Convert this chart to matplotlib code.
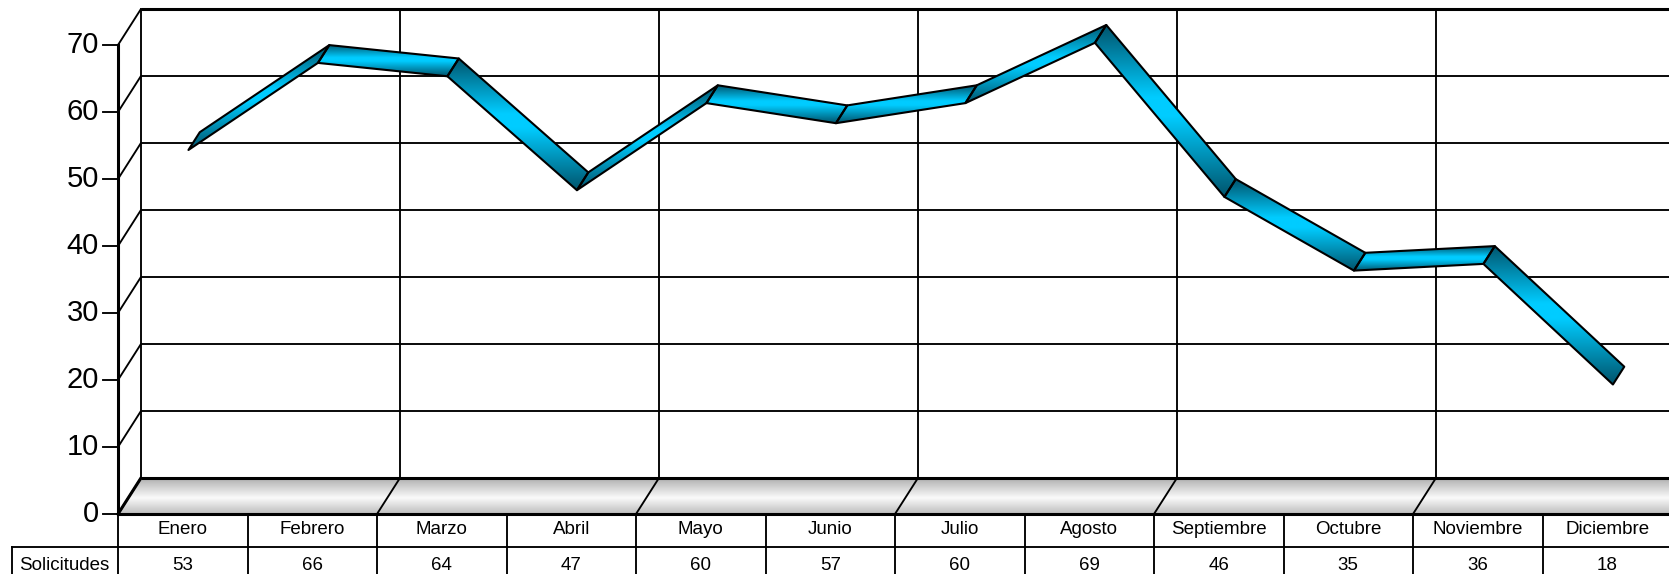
import numpy as np
import matplotlib
matplotlib.use("Agg")
import matplotlib.pyplot as plt
from matplotlib.patches import Polygon
from matplotlib.colors import LinearSegmentedColormap

plt.rcParams['font.family'] = ['Liberation Sans', 'DejaVu Sans']

# ---- data ----
months = ["Enero", "Febrero", "Marzo", "Abril", "Mayo", "Junio", "Julio",
          "Agosto", "Septiembre", "Octubre", "Noviembre", "Diciembre"]
solicitudes = [53, 66, 64, 47, 60, 57, 60, 69, 46, 35, 36, 18]
series_name = "Solicitudes"
y_ticks = [0, 10, 20, 30, 40, 50, 60, 70]

# ---- layout (pixel geometry of the 3D frame) ----
W, H = 1669, 574
X0, SX = 118.0, 129.5      # px of front-left corner, px per category
Y0, SY = 514.0, 6.70       # px (from top) of value 0, px per unit
DX = 22.7 / SX             # depth offset in category units
DY = 35.6 / SY             # depth offset in value units
YMAX = 70
NC = len(months)

fig = plt.figure(figsize=(W / 100, H / 100), dpi=100)
ax = fig.add_axes([0, 0, 1, 1])
ax.set_axis_off()
xlim = (-X0 / SX, (W - X0) / SX)
ylim = (-(H - Y0) / SY, Y0 / SY)


def P(c, v, t):
    return (c + t * DX, v + t * DY)


def px_x(p):
    return (p - X0) / SX


def px_y(p):
    return (Y0 - p) / SY


K = 'black'
lw_thin = 1.35
lw_thick = 2.2

# ---- floor with gradient ----
floor_pts = [P(0, 0, 0), P(NC + 1, 0, 0), P(NC + 1, 0, 1), P(0, 0, 1)]
floor_cmap = LinearSegmentedColormap.from_list(
    "floor", [(0, '#BCBCBC'), (0.45, '#FAFAFA'), (1, '#B0B0B0')])
fpoly = Polygon(floor_pts, closed=True, facecolor='none', edgecolor='none',
                transform=ax.transData)
ax.add_patch(fpoly)
xs = [p[0] for p in floor_pts]
ys = [p[1] for p in floor_pts]
im = ax.imshow(np.linspace(0, 1, 256).reshape(-1, 1), cmap=floor_cmap,
               extent=[min(xs), max(xs), min(ys), max(ys)], origin='lower',
               aspect='auto', interpolation='bilinear', zorder=1)
im.set_clip_path(fpoly)

# ---- back wall gridlines ----
for v in y_ticks:
    a, b = P(0, v, 1), P(NC + 1, v, 1)
    ax.plot([a[0], b[0]], [a[1], b[1]], color=K,
            lw=lw_thick if v in (0, YMAX) else lw_thin, zorder=2,
            solid_capstyle='butt')
for c in range(0, NC + 1, 2):
    a, b = P(c, 0, 1), P(c, YMAX, 1)
    ax.plot([a[0], b[0]], [a[1], b[1]], color=K, lw=lw_thin, zorder=2)

# ---- left side wall ----
for v in y_ticks:
    a, b = P(0, v, 0), P(0, v, 1)
    ax.plot([a[0], b[0]], [a[1], b[1]], color=K, lw=lw_thin, zorder=2)
a, b = P(0, 0, 0), P(0, YMAX, 0)
ax.plot([a[0], b[0]], [a[1], b[1]], color=K, lw=lw_thick, zorder=3)

# floor diagonals
for c in range(2, NC + 1, 2):
    a, b = P(c, 0, 0), P(c, 0, 1)
    ax.plot([a[0], b[0]], [a[1], b[1]], color=K, lw=lw_thin, zorder=2)
a, b = P(0, 0, 0), P(0, 0, 1)
ax.plot([a[0], b[0]], [a[1], b[1]], color=K, lw=lw_thick, zorder=3)

# ---- y ticks and labels ----
tick_len = 15 / SX
for v in y_ticks:
    ax.plot([-tick_len, 0], [v, v], color=K, lw=lw_thin, zorder=3)
    ax.text(px_x(99), v, str(v), ha='right', va='center', fontsize=21,
            color=K, zorder=4)

# ---- ribbon line ----
rib_cmap = LinearSegmentedColormap.from_list(
    "rib", [(0, '#00546C'), (0.47, '#00CCFF'), (0.58, '#00CCFF'), (1, '#00546C')])
t0, t1 = 0.25, 0.75
for i in range(NC - 1):
    c1, c2 = i + 0.5, i + 1.5
    v1, v2 = solicitudes[i], solicitudes[i + 1]
    quad = [P(c1, v1, t0), P(c2, v2, t0), P(c2, v2, t1), P(c1, v1, t1)]
    poly = Polygon(quad, closed=True, facecolor='none', edgecolor='none',
                   transform=ax.transData)
    ax.add_patch(poly)
    qx = [p[0] for p in quad]
    qy = [p[1] for p in quad]
    im = ax.imshow(np.linspace(0, 1, 256).reshape(-1, 1), cmap=rib_cmap,
                   extent=[min(qx), max(qx), min(qy), max(qy)], origin='lower',
                   aspect='auto', interpolation='bilinear', zorder=5)
    im.set_clip_path(poly)
    ax.add_patch(Polygon(quad, closed=True, facecolor='none', edgecolor=K,
                         lw=1.5, joinstyle='round', zorder=6))

# ---- data table ----
y_row1 = px_y(547)
y_bot = px_y(600)
ax.plot([0, NC], [0, 0], color=K, lw=lw_thick, zorder=3)
ax.plot([px_x(12), NC], [y_row1, y_row1], color=K, lw=lw_thin, zorder=3)
for c in range(NC + 1):
    ax.plot([c, c], [0, y_bot], color=K, lw=lw_thin, zorder=3)
ax.plot([px_x(12), px_x(12)], [y_row1, y_bot], color=K, lw=lw_thin, zorder=3)
for i, (m, val) in enumerate(zip(months, solicitudes)):
    ax.text(i + 0.5, px_y(530), m, ha='center', va='center', fontsize=13.5,
            color=K, zorder=4)
    ax.text(i + 0.5, px_y(565), str(val), ha='center', va='center',
            fontsize=13.5, color=K, zorder=4)
ax.text(px_x(64), px_y(565), series_name, ha='center', va='center',
        fontsize=13.5, color=K, zorder=4)

ax.set_xlim(*xlim)
ax.set_ylim(*ylim)
fig.savefig("out.png", dpi=100)
